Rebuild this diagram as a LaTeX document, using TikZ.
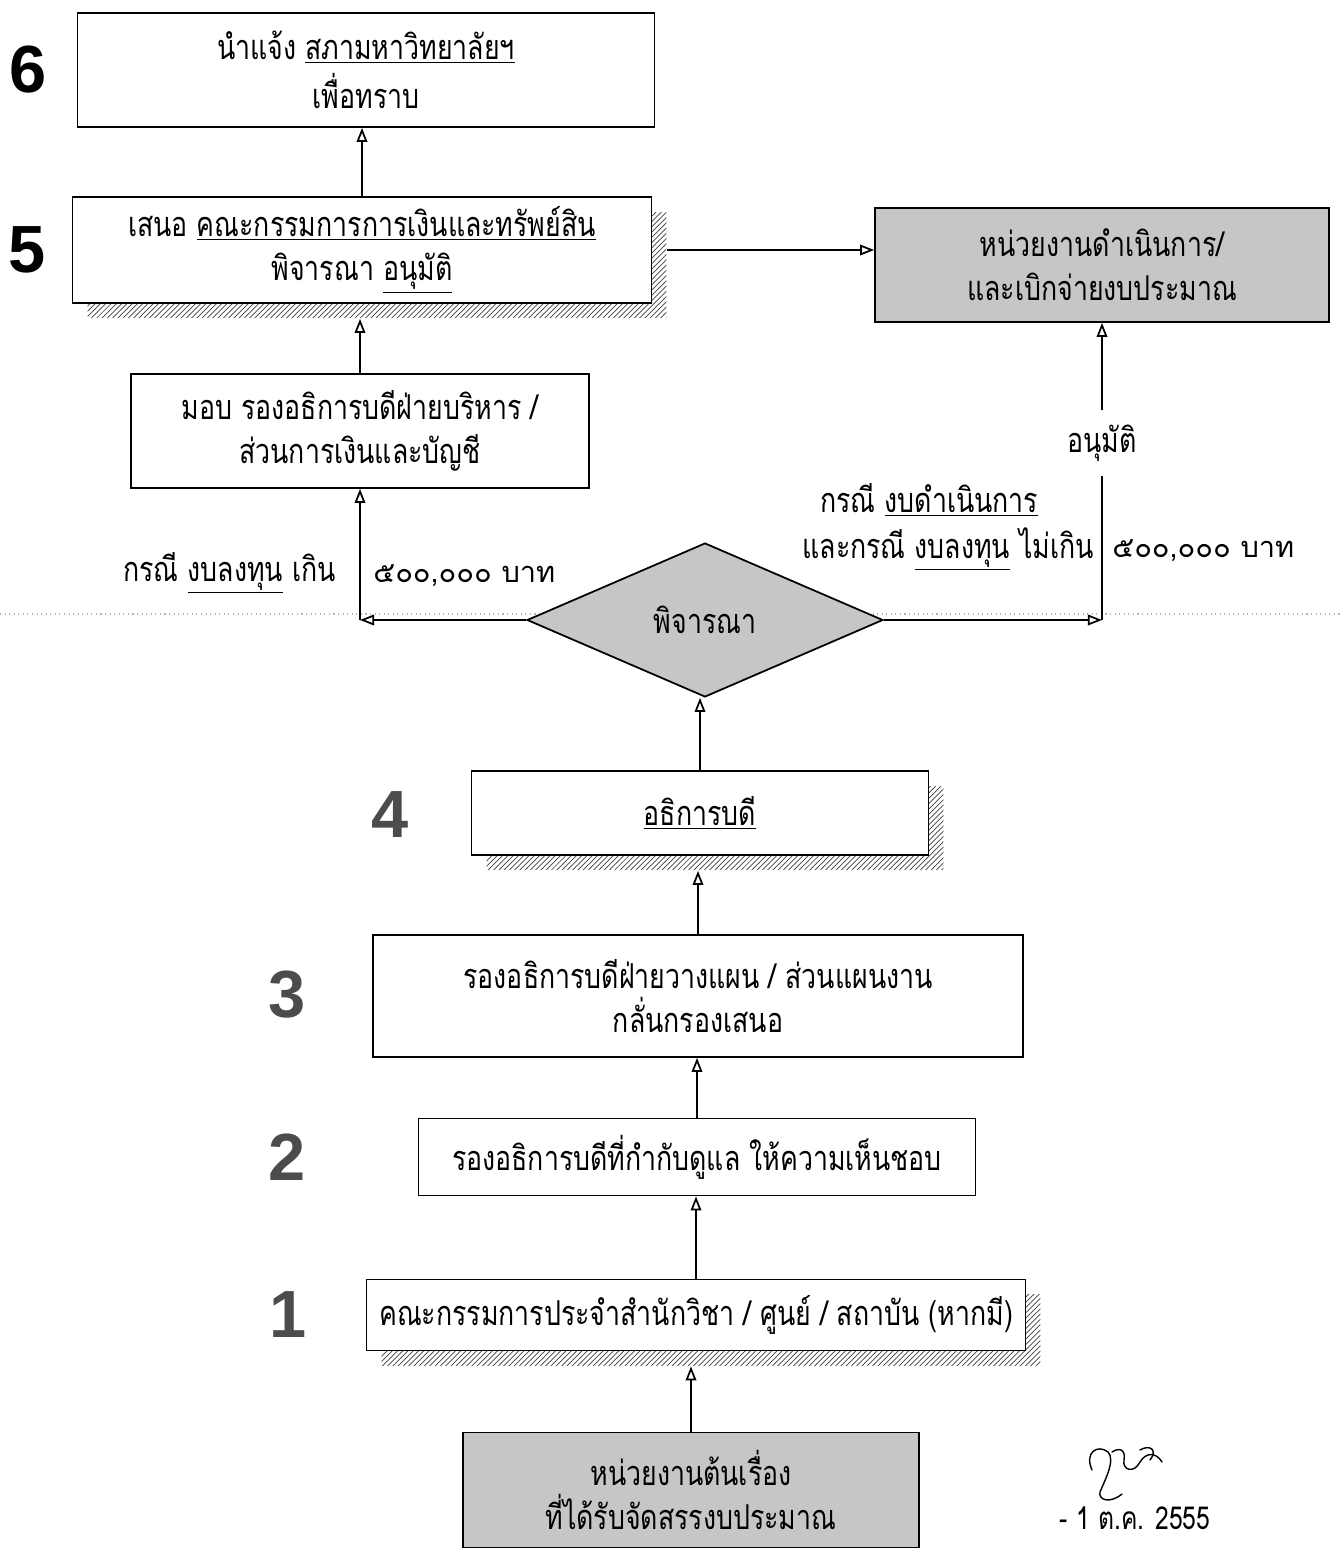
\documentclass[tikz,border=0pt]{standalone}
\usepackage{fontspec}
\newfontfamily\thaifont[Script=Thai,FakeStretch=0.78]{Loma}
\newfontfamily\thaiwide[Script=Thai]{Loma}
\setsansfont{Liberation Sans}
\usetikzlibrary{shapes.geometric,arrows.meta,positioning,calc,shadows,patterns}
\newcommand{\uln}[1]{\underline{#1}}

\begin{document}
\begin{tikzpicture}[
    x=0.02cm, y=-0.02cm,
    box/.style={rectangle, draw, line width=1pt, fill=white, align=center, inner sep=2pt, font=\thaifont\fontsize{19.5}{25}\selectfont},
    shadowbox/.style={box, drop shadow={shadow xshift=0.3cm, shadow yshift=-0.3cm, opacity=1, pattern=north east lines, pattern color=black!75}},
    graybox/.style={box, fill=gray!45},
    decision/.style={diamond, draw, line width=1pt, fill=gray!45, inner sep=0pt, font=\thaifont\fontsize{19.5}{25}\selectfont},
    arrow/.style={-{Triangle[open, length=8pt, width=6pt]}, line width=1pt},
    stepnum/.style={font=\sffamily\bfseries\fontsize{38}{38}\selectfont},
    lbl/.style={inner sep=0pt, font=\thaifont\fontsize{19.5}{25}\selectfont}
]
    \useasboundingbox (0,0) rectangle (1341,1548);

    % fold line of the scan
    \draw[gray!60, dotted, line width=0.6pt] (0,614) -- (1341,614);

    % Steps, top to bottom
    \node[box, minimum width=11.54cm, minimum height=2.28cm] (step6) at (366,70) {นำแจ้ง \uln{สภามหาวิทยาลัยฯ}\\[3pt] เพื่อทราบ};
    \node[shadowbox, minimum width=11.58cm, minimum height=2.12cm] (step5) at (362,250) {เสนอ \uln{คณะกรรมการการเงินและทรัพย์สิน}\\ พิจารณา \uln{อนุมัติ}};
    \node[graybox, minimum width=9.08cm, minimum height=2.28cm] (exec) at (1102,265) {หน่วยงานดำเนินการ/\\ และเบิกจ่ายงบประมาณ};
    \node[box, minimum width=9.16cm, minimum height=2.28cm] (assign) at (360,431) {มอบ รองอธิการบดีฝ่ายบริหาร /\\ ส่วนการเงินและบัญชี};
    \node[decision, minimum width=7.12cm, minimum height=3.08cm] (decide) at (705,620) {พิจารณา};
    \node[shadowbox, minimum width=9.14cm, minimum height=1.68cm] (step4) at (700,813) {\uln{อธิการบดี}};
    \node[box, minimum width=13cm, minimum height=2.44cm] (step3) at (698,996) {รองอธิการบดีฝ่ายวางแผน / ส่วนแผนงาน\\ กลั่นกรองเสนอ};
    \node[box, minimum width=11.14cm, minimum height=1.54cm] (step2) at (697,1157) {รองอธิการบดีที่กำกับดูแล ให้ความเห็นชอบ};
    \node[shadowbox, minimum width=13.18cm, minimum height=1.42cm] (step1) at (696,1315) {คณะกรรมการประจำสำนักวิชา / ศูนย์ / สถาบัน (หากมี)};
    \node[graybox, minimum width=9.12cm, minimum height=2.3cm] (origin) at (691,1490) {หน่วยงานต้นเรื่อง\\ ที่ได้รับจัดสรรงบประมาณ};

    % Step numbers
    \node[stepnum] (num6) at (28,70) {6};
    \node[stepnum] (num5) at (27,250) {5};
    \node[stepnum, text=black!70] (num4) at (390,815) {4};
    \node[stepnum, text=black!70] (num3) at (287,995) {3};
    \node[stepnum, text=black!70] (num2) at (287,1157) {2};
    \node[stepnum, text=black!70] (num1) at (288,1315) {1};

    % Branch points and labels
    \coordinate (capL) at (assign.south |- decide.west);
    \coordinate (capR) at (exec.south |- decide.east);
    \node[lbl, fill=white, inner ysep=8pt] (approve) at (1102,443) {อนุมัติ};
    \node[lbl, anchor=east] (overL) at (336,573) {กรณี \uln{งบลงทุน} เกิน};
    \node[lbl, anchor=west, font=\thaiwide\fontsize{16.5}{22}\selectfont] (sumL) at (373,576) {๕๐๐,๐๐๐ บาท};
    \node[lbl, anchor=west] (opcase) at (820,500) {กรณี \uln{งบดำเนินการ}};
    \node[lbl, anchor=east] (underR) at (1094,549) {และกรณี \uln{งบลงทุน} ไม่เกิน};
    \node[lbl, anchor=west, font=\thaiwide\fontsize{16.5}{22}\selectfont] (sumR) at (1112,551) {๕๐๐,๐๐๐ บาท};

    % Arrows
    \draw[arrow, shorten >=0.3cm] (origin.north) -- (origin.north |- step1.south);
    \draw[arrow] (step1.north) -- (step1.north |- step2.south);
    \draw[arrow] (step2.north) -- (step2.north |- step3.south);
    \draw[arrow, shorten >=0.3cm] (step3.north) -- (step3.north |- step4.south);
    \draw[arrow] (step4.north) -- (step4.north |- decide.south);
    \draw[arrow] (decide.west) -- (capL);
    \draw[arrow] (capL) -- (assign.south);
    \draw[arrow] (decide.east) -- (capR);
    \draw[line width=1pt] (capR) -- (approve.south);
    \draw[arrow] (approve.north) -- (exec.south);
    \draw[arrow, shorten >=0.3cm] (assign.north) -- (assign.north |- step5.south);
    \draw[arrow] (step5.north) -- (step5.north |- step6.south);
    \draw[arrow, shorten <=0.3cm] (step5.east) -- (step5.east -| exec.west);

    % Signature and date
    \draw[line width=0.8pt, line cap=round] (1092,1470) .. controls (1084,1452) and (1098,1444) .. (1108,1452)
        .. controls (1116,1460) and (1104,1482) .. (1100,1492) .. controls (1098,1500) and (1110,1504) .. (1122,1494);
    \draw[line width=0.8pt, line cap=round] (1112,1452) .. controls (1118,1448) and (1126,1448) .. (1124,1460)
        .. controls (1122,1470) and (1134,1474) .. (1140,1462) .. controls (1146,1452) and (1156,1452) .. (1162,1462);
    \draw[line width=0.8pt, line cap=round] (1140,1450) .. controls (1150,1444) and (1158,1450) .. (1150,1460);
    \node[lbl, font=\thaifont\fontsize{18}{22}\selectfont] (date) at (1135,1518) {- 1 ต.ค. 2555};
\end{tikzpicture}
\end{document}
